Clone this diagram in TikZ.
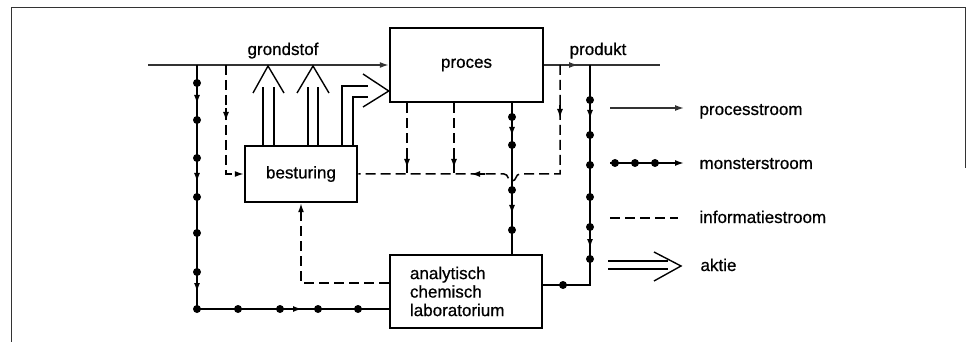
\documentclass[tikz,border=0pt]{standalone}
\usepackage{fontspec}
\setmainfont{Liberation Sans}[FakeBold=0.7]
\usetikzlibrary{arrows.meta}
\begin{document}
\begin{tikzpicture}[x=1pt,y=-1pt,
  box/.style={draw, line width=2.5pt, inner sep=0pt},
  txt/.style={font=\fontsize{17}{18.5}\selectfont},
  flow/.style={line width=1.5pt, black!80},
  mon/.style={line width=1.6pt},
  info/.style={line width=1.5pt, dash pattern=on 10pt off 5pt},
  act/.style={line width=1.4pt},
  tip/.style={-{Latex[length=9pt,width=6pt]}},
  frame/.style={line width=1pt, black!80},
]
\useasboundingbox (0,0) rectangle (970,342);
% frame
\coordinate (f1) at (11,342);
\coordinate (f2) at (11,8);
\coordinate (f3) at (965,8);
\coordinate (f4) at (965,168);
\draw[frame] (f1) -- (f2) -- (f3) -- (f4);

% boxes
\node[box, minimum width=153pt, minimum height=74pt, txt] (proces) at (466.5,65) {proces};
\node[box, minimum width=112pt, minimum height=56pt, txt] (besturing) at (301,174) {besturing};
\node[box, minimum width=152pt, minimum height=73pt, txt, align=left, text width=112pt, inner xsep=20pt] (lab) at (466,291.5) {analytisch\\chemisch\\laboratorium};

% labels
\node[txt, anchor=base] (grondstof) at (283,55) {grondstof};
\node[txt, anchor=base] (produkt) at (598,55) {produkt};

% process stream
\coordinate (gin) at (148,65);
\coordinate (pout) at (660,65);
\coordinate (parr) at (578,65);
\draw[flow, tip] (gin) -- (proces.west);
\draw[flow] (proces.east) -- (pout);
\draw[flow, tip] (proces.east) -- (parr);

% left sample stream
\coordinate (ml) at (197,65);
\coordinate (mlb) at (197,309);
\draw[mon] (ml) -- (mlb) -- (mlb -| lab.west);
\foreach \y in {83,120,158,197,233,272,309} \fill (197,\y) circle (4pt);
\foreach \y in {99,177,287} \draw[mon,tip] (197,{\y-6}) -- (197,{\y+5});
\foreach \x in {238,280,318,358} \fill (\x,309) circle (4pt);
\draw[mon,tip] (289,309) -- (302,309);

% middle sample stream
\coordinate (mm) at (512,0);
\draw[mon] (proces.south -| mm) -- (lab.north -| mm);
\foreach \y in {117,145,190,230} \fill (512,\y) circle (4pt);
\foreach \y in {131,209} \draw[mon,tip] (512,{\y-6}) -- (512,{\y+5});

% right sample stream
\coordinate (mr) at (590,65);
\coordinate (mrb) at (590,285);
\draw[mon] (mr) -- (mrb) -- (mrb -| lab.east);
\foreach \y in {100,135,165,197,227,259} \fill (590,\y) circle (4pt);
\fill (563,285) circle (4pt);
\foreach \y in {114,243} \draw[mon,tip] (590,{\y-6}) -- (590,{\y+5});

% information streams
\coordinate (i1) at (226,65);
\draw[info, tip] (i1) |- (besturing.west);
\draw[mon, tip] (226,108) -- (226,121);

\coordinate (i2) at (407,0);
\coordinate (i3) at (454,0);
\draw[info] (proces.south -| i2) -- (i2 |- besturing.east);
\draw[info] (proces.south -| i3) -- (i3 |- besturing.east);
\draw[mon, tip] (407,155) -- (407,168);
\draw[mon, tip] (454,155) -- (454,168);

\coordinate (i4) at (560,65);
\coordinate (i4b) at (560,174);
\draw[info] (i4) -- (i4b) -- (520,174) .. controls (515,174) and (517,181) .. (512,181) .. controls (507,181) and (509,174) .. (504,174) -- (besturing.east);
\draw[mon, tip] (560,105) -- (560,118);
\draw[mon, tip] (485,174) -- (471,174);

\coordinate (i5) at (0,283);
\draw[info, tip] (lab.west |- i5) -| (besturing.south);

% actions
\coordinate (a1) at (263,87);
\coordinate (a2) at (274,87);
\coordinate (a3) at (308,87);
\coordinate (a4) at (318,87);
\draw[act] (besturing.north -| a1) -- (a1);
\draw[act] (besturing.north -| a2) -- (a2);
\draw[act] (besturing.north -| a3) -- (a3);
\draw[act] (besturing.north -| a4) -- (a4);
\draw[act] (253,93) -- (268,66) -- (284,93);
\draw[act] (297,93) -- (313,66) -- (329,93);
\coordinate (a5) at (342,86);
\coordinate (a6) at (353,97);
\draw[act] (besturing.north -| a5) -- (a5) -- (368,86);
\draw[act] (besturing.north -| a6) -- (a6) -- (368,97);
\draw[act] (363,74) -- (proces.west |- 0,91) -- (363,107);

% legend
\coordinate (l1a) at (610,108);
\coordinate (l1b) at (684,108);
\draw[flow, tip] (l1a) -- (l1b);
\node[txt, anchor=base west] (lproc) at (696,115) {processtroom};

\coordinate (l2a) at (610,163);
\coordinate (l2b) at (684,163);
\draw[mon, tip] (l2a) -- (l2b);
\foreach \x in {615,635,655} \fill (\x,163) circle (4pt);
\node[txt, anchor=base west] (lmon) at (696,169) {monsterstroom};

\coordinate (l3a) at (610,218);
\coordinate (l3b) at (678,218);
\draw[info] (l3a) -- (l3b);
\node[txt, anchor=base west] (linfo) at (696,223) {informatiestroom};

\coordinate (l4a) at (608,261);
\coordinate (l4b) at (608,269);
\draw[act] (l4a) -- (668,261);
\draw[act] (l4b) -- (668,269);
\draw[act] (654,252) -- (681,266) -- (654,281);
\node[txt, anchor=base west] (lakt) at (697,271) {aktie};
\end{tikzpicture}
\end{document}
